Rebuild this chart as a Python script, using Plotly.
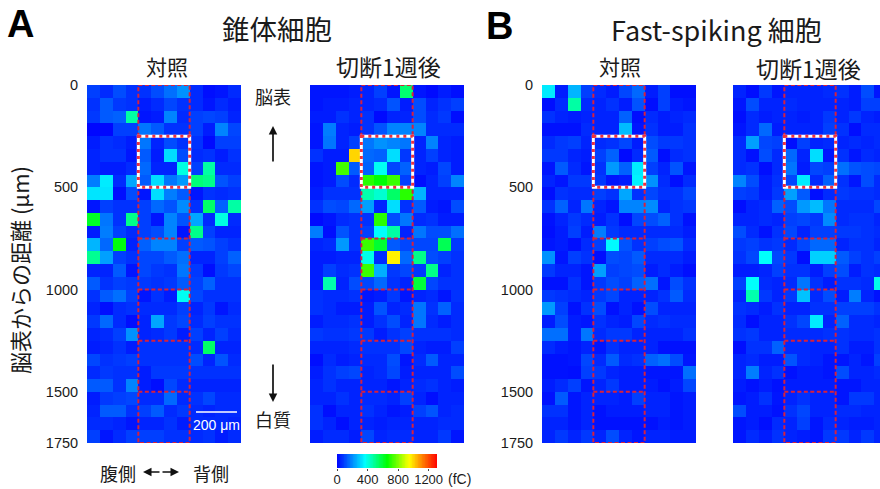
import plotly.graph_objects as go

pyramidal_control = [
[90,60,110,70,70,110,160,210,60,20,30,60],
[70,130,80,70,40,60,100,70,60,30,60,40],
[80,130,140,470,30,40,190,60,90,100,90,50],
[10,10,90,90,170,130,70,70,90,40,190,100],
[40,70,60,40,170,50,110,70,70,15,90,90],
[50,70,70,30,130,40,320,110,60,70,40,70],
[50,40,40,60,150,50,50,400,90,470,60,60],
[180,340,60,240,130,320,170,220,520,500,120,90],
[330,330,20,110,30,320,180,130,30,70,60,70],
[30,90,70,70,90,150,120,200,70,540,140,470],
[610,170,70,500,90,30,190,120,240,60,400,60],
[40,180,90,60,90,110,190,30,500,90,50,50],
[260,150,640,50,140,190,190,90,130,120,90,70],
[490,230,90,70,100,100,130,160,50,50,90,140],
[50,50,130,30,100,80,70,170,80,20,80,100],
[130,70,90,80,80,70,80,130,90,140,70,70],
[70,130,160,90,30,70,40,380,100,70,70,70],
[50,20,60,70,60,60,60,90,50,80,30,60],
[80,150,60,20,50,240,80,100,60,90,70,70],
[50,60,90,210,50,60,80,40,90,50,90,60],
[40,50,70,40,70,70,70,70,60,540,50,50],
[100,70,80,90,70,70,70,70,110,50,120,60],
[60,80,70,70,40,80,80,80,70,70,70,70],
[130,130,70,190,40,20,100,60,50,50,50,50],
[40,80,90,100,60,60,150,60,70,100,60,60],
[50,130,130,70,90,130,60,80,60,50,60,60],
[60,60,50,30,50,50,70,40,60,60,60,50],
[90,30,60,90,90,90,70,70,60,70,40,60],
]
pyramidal_axotomy = [
[30,30,30,40,50,90,30,530,30,15,40,20],
[30,40,40,50,50,60,120,40,110,50,70,90],
[40,40,70,50,70,15,50,50,110,60,80,20],
[30,180,50,40,70,120,190,190,190,60,60,60],
[30,170,50,90,170,210,190,170,50,190,50,40],
[70,40,40,1000,150,140,320,80,50,90,50,40],
[30,40,730,130,140,380,100,140,50,40,100,40],
[30,40,110,60,700,650,720,90,20,50,90,190],
[40,70,70,70,460,420,540,700,260,50,50,50],
[70,110,100,150,230,50,320,70,130,40,30,110],
[15,30,60,70,70,700,110,170,60,70,40,40],
[180,20,120,70,90,370,470,50,170,110,110,160],
[50,60,220,70,720,600,130,100,100,100,560,80],
[40,40,50,50,390,60,960,150,500,110,90,70],
[40,90,60,70,720,250,80,100,80,500,50,70],
[40,460,50,110,100,150,70,50,590,100,70,70],
[70,60,60,70,30,40,80,30,50,60,30,70],
[70,60,40,40,40,120,50,60,170,70,140,60],
[40,60,60,70,40,70,110,50,170,60,40,60],
[80,70,70,80,80,40,70,90,70,70,70,60],
[50,50,50,60,70,70,70,100,50,40,40,90],
[20,60,40,50,60,60,110,30,60,130,50,50],
[40,70,90,100,50,60,100,40,50,50,50,110],
[50,70,50,50,50,50,30,50,60,70,50,40],
[50,50,70,50,60,60,50,90,50,20,50,50],
[70,20,50,50,70,50,30,40,90,120,50,60],
[70,50,20,50,50,40,50,50,50,50,60,60],
[40,60,60,40,100,50,60,60,50,50,80,30],
]
fs_control = [
[340,40,260,90,60,40,100,150,40,90,20,20],
[20,60,470,60,50,70,40,120,20,90,40,30],
[70,50,40,50,50,50,140,20,60,40,50,60],
[25,25,25,60,50,50,270,30,70,40,40,70],
[60,80,90,50,60,70,100,40,110,80,80,70],
[80,80,50,40,90,140,15,60,130,20,60,70],
[30,130,60,30,70,220,140,340,90,50,120,30],
[50,30,80,80,80,30,40,350,210,60,20,60],
[20,70,60,60,90,70,240,70,100,70,70,100],
[70,140,50,170,50,30,190,190,200,50,70,80],
[25,50,80,60,40,70,20,100,110,140,70,25],
[20,40,90,40,180,80,60,60,60,60,60,40],
[30,40,20,60,90,360,120,70,90,110,120,60],
[210,30,90,70,20,110,100,130,60,60,60,40],
[80,50,50,30,230,90,100,110,40,60,40,20],
[25,25,70,30,80,110,90,140,160,30,110,70],
[80,70,60,50,80,100,50,50,50,70,130,60],
[220,90,25,70,110,25,50,25,110,50,50,50],
[40,110,40,30,70,50,40,100,60,70,60,60],
[160,160,40,170,60,80,80,50,50,50,50,70],
[60,40,30,50,30,70,50,50,50,25,25,25],
[25,25,30,100,60,130,60,70,140,160,110,30],
[25,25,20,90,80,50,40,40,30,30,30,160],
[40,60,90,30,50,80,40,40,40,25,40,100],
[25,130,30,50,50,50,40,90,50,50,30,40],
[70,70,30,50,25,40,40,40,50,50,30,40],
[50,50,30,50,25,25,25,25,25,40,30,40],
[50,80,50,80,50,110,50,30,50,50,40,40],
]
fs_axotomy = [
[50,20,80,30,50,50,50,60,70,40,110,30],
[30,110,50,50,60,50,50,50,50,40,90,90],
[20,60,40,50,50,40,50,80,50,80,50,40],
[30,60,150,40,50,50,50,90,70,20,60,60],
[60,230,100,90,20,90,50,60,50,60,50,60],
[60,25,110,60,150,50,320,30,70,30,60,50],
[60,70,20,60,170,40,100,90,160,120,110,100],
[190,110,40,70,100,340,60,140,70,30,110,60],
[90,80,40,80,230,130,20,60,80,70,70,60],
[20,50,60,140,110,220,270,170,60,60,60,100],
[50,50,60,50,90,100,80,200,60,70,70,50],
[110,60,25,70,100,50,90,90,80,80,70,60],
[80,90,70,80,60,100,150,150,50,70,70,50],
[70,100,370,100,80,20,300,300,130,90,70,90],
[40,40,50,90,70,70,40,90,110,40,70,60],
[90,370,60,50,60,170,70,40,70,70,60,390],
[50,460,80,50,80,280,60,110,40,180,50,25],
[70,60,40,70,50,50,70,70,90,90,90,70],
[60,20,50,50,70,100,340,50,140,60,60,50],
[70,80,50,50,60,60,60,70,70,60,60,70],
[20,70,70,140,60,60,50,50,70,40,40,70],
[50,60,40,40,120,60,50,30,30,50,30,90],
[50,180,50,70,25,40,40,30,110,50,50,60],
[40,25,40,25,40,40,40,40,30,30,50,50],
[30,40,70,30,50,70,50,50,30,80,80,50],
[110,40,40,25,70,100,50,50,60,60,50,50],
[30,40,20,60,50,90,30,60,50,40,40,50],
[30,60,40,70,50,40,30,80,80,50,80,50],
]
columns = list(range(12))
depths = [62.5 * i + 31.25 for i in range(28)]
depth_ticks = [0, 500, 1000, 1500, 1750]
cbar_ticks = [0, 400, 800, 1200]
cbar_levels = list(range(0, 1311, 10))
box_bounds = [500, 750, 1000, 1250, 1500, 1750]

W, H = 880, 489
CJK = "Noto Sans CJK JP"
LAT = "Liberation Sans"
TXT = "#1a1a1a"
RED = "#d8203c"
scale = [[0, "#0000ff"], [.28, "#00ffff"], [.5, "#00ff00"], [.72, "#ffff00"], [.85, "#ff8000"], [1, "#ff0000"]]

panels = [
    (pyramidal_control, 87, 241, "x", "y", True),
    (pyramidal_axotomy, 310, 464, "x2", "y2", False),
    (fs_control, 542, 696, "x3", "y3", True),
    (fs_axotomy, 733, 880, "x4", "y4", False),
]
fig = go.Figure()
layout = {}
shapes = []
dash = dict(color=RED, width=2, dash="4px,2.5px")
for z, x0, x1, xa, ya, show in panels:
    fig.add_trace(go.Heatmap(z=z, x=columns, y=depths, xaxis=xa, yaxis=ya, coloraxis="coloraxis",
                             zsmooth=False))
    suffix = xa[1:]
    right = -0.5 + (x1 - x0) / (154 / 12)
    layout["xaxis" + suffix] = dict(domain=[x0 / W, x1 / W], range=[-0.5, right], visible=False, anchor=ya)
    layout["yaxis" + suffix] = dict(domain=[1 - 443 / H, 1 - 85 / H], range=[1750, 0], anchor=xa,
                                    showgrid=False, zeroline=False, showline=False,
                                    tickmode="array", tickvals=depth_ticks if show else [],
                                    ticks="outside" if show else "", ticklen=5, tickcolor="rgba(0,0,0,0)",
                                    showticklabels=show,
                                    tickfont=dict(family=LAT, size=14.5, color=TXT))
    shapes.append(dict(type="rect", xref=xa, yref=ya, x0=3.5, x1=7.5, y0=0, y1=1750, line=dash))
    for b in box_bounds[1:-1]:
        shapes.append(dict(type="line", xref=xa, yref=ya, x0=3.5, x1=7.5, y0=b, y1=b, line=dash))
    shapes.append(dict(type="rect", xref=xa, yref=ya, x0=3.5, x1=7.5, y0=250, y1=500,
                       line=dict(color="white", width=3)))
    shapes.append(dict(type="rect", xref=xa, yref=ya, x0=3.5, x1=7.5, y0=250, y1=500,
                       line=dict(color="#ee3040", width=3, dash="3px,4px")))

fig.add_trace(go.Heatmap(z=[cbar_levels], x=cbar_levels, y=[0], xaxis="x5", yaxis="y5",
                         coloraxis="coloraxis", zsmooth=False))
layout["xaxis5"] = dict(domain=[337 / W, 437 / W], range=[0, 1310], anchor="y5", showgrid=False, zeroline=False,
                        tickmode="array", tickvals=cbar_ticks, ticks="outside", ticklen=2, tickcolor="#444444",
                        ticklabelstandoff=-3,
                        tickfont=dict(family=LAT, size=13, color=TXT), showline=False)
layout["yaxis5"] = dict(domain=[1 - 468 / H, 1 - 454 / H], visible=False, anchor="x5", range=[-0.5, 0.5])

shapes.append(dict(type="line", xref="paper", yref="paper", x0=196 / W, x1=237 / W,
                   y0=1 - 412 / H, y1=1 - 412 / H, line=dict(color="white", width=1.6)))


def text(s, x, y, size=18, family=CJK, color=TXT, **kw):
    return dict(text=s, x=x / W, y=1 - y / H, xref="paper", yref="paper", showarrow=False,
                xanchor="center", yanchor="middle",
                font=dict(family=family, size=size, color=color), **kw)


def arrow(x0, y0, x1, y1):
    return dict(x=x1 / W, y=1 - y1 / H, xref="paper", yref="paper", ax=x0 - x1, ay=y0 - y1, text="",
                showarrow=True, arrowhead=2, arrowsize=1, arrowwidth=1.7, arrowcolor="#111111")


annotations = [
    text("<b>A</b>", 20, 24, 38, LAT, "#000000"),
    text("<b>B</b>", 499, 26, 38, LAT, "#000000"),
    text("錐体細胞", 277, 28, 27.5),
    text("Fast-spiking 細胞", 716, 30, 27),
    text("対照", 167, 66, 21),
    text("切断1週後", 388, 66, 23),
    text("対照", 620, 66, 21),
    text("切断1週後", 808, 68, 23),
    text("脳表", 273, 96, 18),
    text("白質", 273, 419, 18),
    text("脳表からの距離 (μm)", 19, 270, 22, textangle=-90),
    text("腹側", 118, 473, 18),
    text("背側", 211, 473, 18),
    text("200 μm", 216, 425, 14, LAT, "white"),
    text("(fC)", 459, 479, 14, LAT),
    arrow(273, 163, 273, 126),
    arrow(273, 363, 273, 402),
    arrow(161, 472, 143, 472),
    arrow(161, 472, 179, 472),
]

fig.update_layout(
    width=W, height=H, margin=dict(l=0, r=0, t=0, b=0, autoexpand=False),
    paper_bgcolor="white", plot_bgcolor="white",
    shapes=shapes, annotations=annotations, showlegend=False,
    coloraxis=dict(colorscale=scale, cmin=0, cmax=1310, showscale=False),
    **layout,
)
fig.write_html("out.html", config=dict(displayModeBar=False),
               post_script="document.body.style.margin='0';")
